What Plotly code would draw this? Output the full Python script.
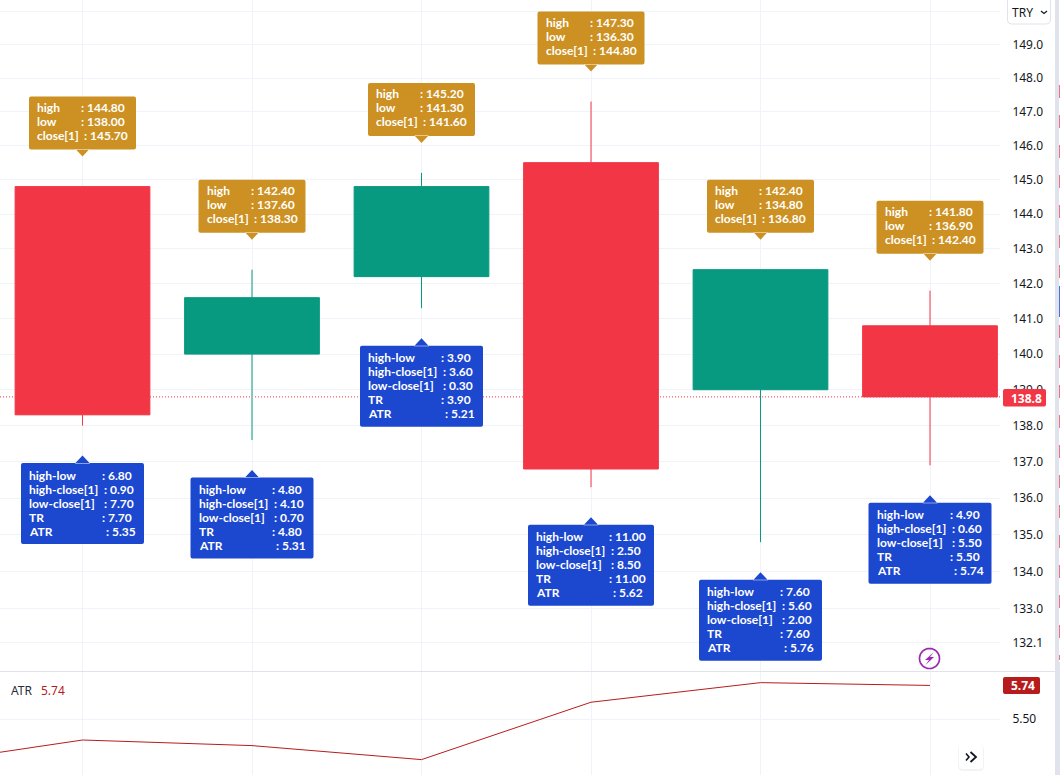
import math
import plotly.graph_objects as go

# ---------- data ----------
positions = [0, 1, 2, 3, 4, 5]
opens = [144.8, 140.0, 142.2, 145.5, 139.0, 140.8]
closes = [138.3, 141.6, 144.8, 136.8, 142.4, 138.8]
highs = [144.8, 142.4, 145.2, 147.3, 142.4, 141.8]
lows = [138.0, 137.6, 141.3, 136.3, 134.8, 136.9]
prev_close = [145.7, 138.3, 141.6, 144.8, 136.8, 142.4]
high_low = [6.80, 4.80, 3.90, 11.00, 7.60, 4.90]
high_close = [0.90, 4.10, 3.60, 2.50, 5.60, 0.60]
low_close = [7.70, 0.70, 0.30, 8.50, 2.00, 5.50]
true_range = [7.70, 4.80, 3.90, 11.00, 7.60, 5.50]
atr_label = [5.35, 5.31, 5.21, 5.62, 5.76, 5.74]
atr_x = [-1, 0, 1, 2, 3, 4, 5]
atr_line = [5.17, 5.35, 5.31, 5.21, 5.62, 5.76, 5.74]
price_ticks = [150, 149, 148, 147, 146, 145, 144, 143, 142, 141, 140, 139, 138, 137, 136, 135, 134, 133, 132.1]
price_tick_text = [""] + [f"{t:.1f}" for t in price_ticks[1:]]
atr_ticks = [5.5]
atr_tick_text = ["5.50"]
last_price = 138.8
last_atr = 5.74

# ---------- style ----------
W, H = 1060, 775
RED, TEAL = "#F23645", "#089981"
GOLD, BLUE = "#CC9122", "#1C47CF"
GRID, EDGE = "#F0F3FA", "#E0E3EB"
INK, ATR_RED = "#131722", "#B71C1C"
FONT = "Noto Sans"
LABEL_FONT = "Lato"


def px(x):
    return x / W


def py(y):
    return 1 - y / H


shapes = []
annotations = []


def rounded(x0, y0, x1, y1, r):
    return (f"M{x0 + r},{y0} L{x1 - r},{y0} Q{x1},{y0} {x1},{y0 + r} L{x1},{y1 - r} Q{x1},{y1} {x1 - r},{y1} "
            f"L{x0 + r},{y1} Q{x0},{y1} {x0},{y1 - r} L{x0},{y0 + r} Q{x0},{y0} {x0 + r},{y0} Z")


def page_path(points_path, fill=None, line=None, width=0):
    shapes.append(dict(type="path", xref="paper", yref="paper", path=points_path, layer="above",
                       fillcolor=fill or "rgba(0,0,0,0)",
                       line=dict(color=line or "rgba(0,0,0,0)", width=width)))


def page_round(x0, y0, x1, y1, r, fill, line=None, width=0):
    X0, X1 = px(x0), px(x1)
    Y0, Y1 = py(y0), py(y1)
    rx, ry = r / W, r / H
    p = (f"M{X0 + rx},{Y0} L{X1 - rx},{Y0} Q{X1},{Y0} {X1},{Y0 - ry} L{X1},{Y1 + ry} Q{X1},{Y1} {X1 - rx},{Y1} "
         f"L{X0 + rx},{Y1} Q{X0},{Y1} {X0},{Y1 + ry} L{X0},{Y0 - ry} Q{X0},{Y0} {X0 + rx},{Y0} Z")
    page_path(p, fill, line, width)


def page_poly(pts, fill=None, line=None, width=0, close=True):
    p = "M" + " L".join(f"{px(a)},{py(b)}" for a, b in pts) + (" Z" if close else "")
    page_path(p, fill, line, width)


def page_text(x, y, text, size=12, color=INK, anchor="left", weight=400, family=FONT):
    annotations.append(dict(xref="paper", yref="paper", x=px(x), y=py(y), text=text, showarrow=False,
                            xanchor=anchor, yanchor="middle", borderpad=0,
                            font=dict(family=family, size=size, color=color, weight=weight)))


def bubble(i, value, path, fill):
    shapes.append(dict(type="path", xref="x", yref="y", xsizemode="pixel", ysizemode="pixel",
                       xanchor=i, yanchor=value, path=path, fillcolor=fill, line=dict(width=0), layer="above"))


def row(i, value, dy, left, colon, name, val):
    for text, xs in ((name, left), (f": {val:.2f}", colon)):
        annotations.append(dict(xref="x", yref="y", x=i, y=math.log10(value), xshift=xs, yshift=dy,
                                text=text, showarrow=False, xanchor="left", yanchor="middle", borderpad=0,
                                font=dict(family=LABEL_FONT, size=12, color="white", weight=700)))


fig = go.Figure()
fig.add_trace(go.Candlestick(
    x=positions, open=opens, high=highs, low=lows, close=closes,
    increasing=dict(line=dict(color=TEAL, width=1), fillcolor=TEAL),
    decreasing=dict(line=dict(color=RED, width=1), fillcolor=RED),
    whiskerwidth=0, hoverinfo="skip", showlegend=False, xaxis="x", yaxis="y"))
fig.add_trace(go.Scatter(x=atr_x, y=atr_line, mode="lines", line=dict(color=ATR_RED, width=1),
                         hoverinfo="skip", showlegend=False, xaxis="x2", yaxis="y2"))

# last price dotted line (below the candles)
shapes.append(dict(type="line", xref="x domain", yref="y", x0=0, x1=1, y0=last_price, y1=last_price,
                   line=dict(color=RED, width=1, dash="1px,2px"), layer="below"))

# labels on each bar
for i in positions:
    w = 107
    gold = rounded(-w / 2, 37, w / 2, 90, 2) + " M-7,37.5 L0,30 L7,37.5 Z"
    bubble(i, highs[i], gold, GOLD)
    lx = -w / 2 + 7
    for dy, name, val, c in ((79, "high", highs[i], 51), (65, "low", lows[i], 51), (51, "close[1]", prev_close[i], 54)):
        row(i, highs[i], dy, lx, -w / 2 + c, name, val)

    w = 126 if high_low[i] >= 10 else 123
    blue = rounded(-w / 2, -118.5, w / 2, -37.5, 2) + " M-7.5,-38 L0,-30 L7.5,-38 Z"
    bubble(i, lows[i], blue, BLUE)
    lx = -w / 2 + 7
    rows = (("high-low", high_low[i], 80), ("high-close[1]", high_close[i], 82), ("low-close[1]", low_close[i], 82),
            ("TR", true_range[i], 80), ("ATR", atr_label[i], 84))
    for k, (name, val, c) in enumerate(rows):
        row(i, lows[i], -49.5 - 14 * k, lx, -w / 2 + c, name, val)

# pane divider and right-hand strip
page_poly([(0, 671.5), (1055, 671.5)], line=EDGE, width=1, close=False)
page_poly([(1055, 0), (1059, 0), (1059, 775), (1055, 775)], fill=EDGE)
strip = [85, 115, 145, 175, 205, 235, 265, 325, 355, 385, 415, 445, 475, 505, 535, 565, 595, 625]
for y in strip:
    page_poly([(1059, y), (1060, y), (1060, y + 13), (1059, y + 13)], fill="#F0747E")
page_poly([(1059, 286), (1060, 286), (1060, 317), (1059, 317)], fill="#4A6FE0")
page_poly([(1059, 655), (1060, 655), (1060, 660), (1059, 660)], fill="#F0747E")
page_poly([(1059, 662), (1060, 662), (1060, 775), (1059, 775)], fill=EDGE)

# currency button
page_round(1007.5, -3, 1050.5, 24, 4, "white", EDGE, 1)
page_text(1011, 12, "TRY", size=12)
page_poly([(1041, 11), (1044, 13.5), (1047, 11)], line=INK, width=1.2, close=False)

# last value tags
page_round(1003, 389, 1046, 406.5, 2, RED)
page_text(1026, 398, f"{last_price:.1f}", size=12, color="white", anchor="center", weight=700)
page_round(1003, 677, 1040, 694, 2, ATR_RED)
page_text(1022.5, 685.5, f"{last_atr:.2f}", size=12, color="white", anchor="center", weight=700)

# lightning mark
page_poly([(929.5 + 10 * math.cos(a / 16 * math.pi), 658.5 + 10 * math.sin(a / 16 * math.pi)) for a in range(32)],
          line="#9C27B0", width=1.7)
page_poly([(934, 652), (925, 660), (929, 660), (925.5, 665), (934, 657), (930, 657)], fill="#9C27B0")

# scroll button
page_round(958, 745, 984, 771, 5, "rgba(19,23,34,0.05)")
page_round(959, 745, 983, 769, 4, "white")
page_poly([(966, 753.5), (969, 757), (966, 760.5)], line=INK, width=1.6, close=False)
page_poly([(970.5, 752), (976, 757), (970.5, 762)], line=INK, width=1.8, close=False)

# legend of ATR pane
page_text(10, 690, "ATR", size=12, color="#2A2E39")
page_text(40, 690, f"{last_atr:.2f}", size=12, color=ATR_RED)

axis_right = 1000 / W
fig.update_layout(
    width=W, height=H, margin=dict(l=0, r=0, t=0, b=0), paper_bgcolor="white", plot_bgcolor="white",
    showlegend=False, boxgap=0.205, boxgroupgap=0, boxmode="overlay", shapes=shapes, annotations=annotations,
    xaxis=dict(domain=[0, axis_right], range=[-0.4867, 5.413], showticklabels=False, ticks="", tickmode="array",
               tickvals=positions, showgrid=True, gridcolor=GRID, gridwidth=1, zeroline=False, showline=False,
               rangeslider=dict(visible=False), anchor="y"),
    xaxis2=dict(domain=[0, axis_right], range=[-0.4867, 5.413], showticklabels=False, ticks="", tickmode="array",
                tickvals=positions, showgrid=True, gridcolor=GRID, gridwidth=1, zeroline=False, showline=False,
                anchor="y2"),
    yaxis=dict(domain=[1 - 671 / H, 1], type="log", range=[2.11843, 2.17708], side="right", anchor="x",
               tickmode="array", tickvals=price_ticks, ticktext=price_tick_text, ticks="outside", ticklen=9,
               tickcolor="rgba(0,0,0,0)", showgrid=True, gridcolor=GRID, gridwidth=1, zeroline=False, showline=False,
               tickfont=dict(family=FONT, size=12, color=INK)),
    yaxis2=dict(domain=[0, 1 - 672 / H], range=[5.10, 5.836], side="right", anchor="x2",
                tickmode="array", tickvals=atr_ticks, ticktext=atr_tick_text, ticks="outside", ticklen=9,
                tickcolor="rgba(0,0,0,0)", showgrid=True, gridcolor=GRID, gridwidth=1, zeroline=False, showline=False,
                tickfont=dict(family=FONT, size=12, color=INK)),
)

fig.write_html("out.html", config=dict(displayModeBar=False),
               post_script="document.body.style.margin='0';document.body.style.overflow='hidden';")
